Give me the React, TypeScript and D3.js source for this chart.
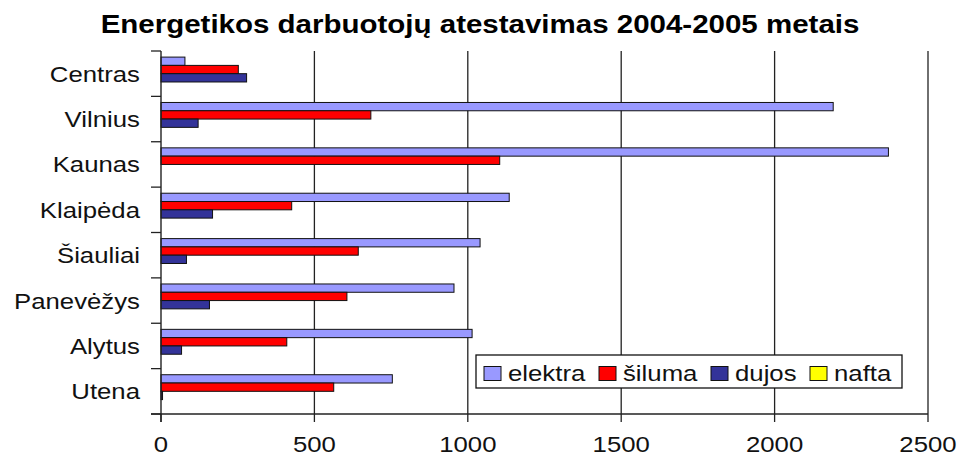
import React, { useEffect, useRef } from 'react';
import * as d3 from 'd3';

// Chart data
const categories = ['Centras', 'Vilnius', 'Kaunas', 'Klaipėda', 'Šiauliai', 'Panevėžys', 'Alytus', 'Utena'];
const seriesNames = ['elektra', 'šiluma', 'dujos', 'nafta'];
const elektra = [78, 2191, 2371, 1135, 1040, 955, 1014, 754];
const siluma = [252, 684, 1104, 426, 643, 606, 410, 563];
const dujos = [279, 121, 0, 168, 83, 158, 67, 5];
const nafta = [0, 0, 0, 0, 0, 0, 0, 0];
const xTicks = [0, 500, 1000, 1500, 2000, 2500];
const colors = ['#9999FF', '#FF0000', '#333399', '#FFFF00'];

const FONT = '"Liberation Sans", Arial, Helvetica, sans-serif';
const STRETCH = 1.12;

const App = () => {
  const ref = useRef<HTMLDivElement>(null);

  useEffect(() => {
    document.body.style.margin = '0';
    const width = 959;
    const height = 457;
    const margin = { top: 51, left: 161, right: 31, bottom: 43 };
    const values = [elektra, siluma, dujos, nafta];

    const svg = d3
      .select(ref.current)
      .append('svg')
      .attr('width', width)
      .attr('height', height)
      .style('display', 'block')
      .style('background', '#fff')
      .attr('font-family', FONT);

    const x = d3.scaleLinear().domain([0, 2500]).range([margin.left, width - margin.right]);
    const y0 = d3.scaleBand().domain(categories).range([margin.top, height - margin.bottom]);
    const y1 = d3
      .scaleBand()
      .domain(seriesNames)
      .range([0, y0.bandwidth()])
      .paddingOuter(0.735);

    const top = margin.top;
    const bottom = height - margin.bottom;
    const lineColor = '#222';

    // Title
    svg
      .append('text')
      .attr('transform', `translate(480, 33) scale(1.18,1)`)
      .attr('text-anchor', 'middle')
      .attr('font-weight', 'bold')
      .attr('font-size', 25)
      .text('Energetikos darbuotojų atestavimas 2004-2005 metais');

    // Gridlines
    svg
      .append('g')
      .selectAll('line')
      .data(xTicks.slice(1))
      .enter()
      .append('line')
      .attr('x1', (d) => x(d))
      .attr('x2', (d) => x(d))
      .attr('y1', top)
      .attr('y2', bottom)
      .attr('stroke', lineColor)
      .attr('stroke-width', 1.3);

    // Bars
    const groups = svg
      .append('g')
      .selectAll('g')
      .data(categories)
      .enter()
      .append('g')
      .attr('transform', (d) => `translate(0, ${y0(d)})`);

    groups
      .selectAll('rect')
      .data((d, i) => seriesNames.map((s, j) => ({ s, v: values[j][i], c: colors[j] })))
      .enter()
      .filter((d) => d.v > 0)
      .append('rect')
      .attr('x', x(0))
      .attr('y', (d) => y1(d.s) as number)
      .attr('width', (d) => x(d.v) - x(0))
      .attr('height', y1.bandwidth())
      .attr('fill', (d) => d.c)
      .attr('stroke', '#111')
      .attr('stroke-width', 1);

    // Y axis
    svg
      .append('line')
      .attr('x1', x(0))
      .attr('x2', x(0))
      .attr('y1', top)
      .attr('y2', bottom + 8)
      .attr('stroke', lineColor)
      .attr('stroke-width', 1.4);

    const bounds = categories.map((c) => y0(c) as number).concat([bottom]);
    svg
      .append('g')
      .selectAll('line')
      .data(bounds)
      .enter()
      .append('line')
      .attr('x1', x(0) - 10)
      .attr('x2', x(0))
      .attr('y1', (d) => d)
      .attr('y2', (d) => d)
      .attr('stroke', lineColor)
      .attr('stroke-width', 1.3);

    svg
      .append('g')
      .selectAll('text')
      .data(categories)
      .enter()
      .append('text')
      .attr('transform', (d) => `translate(140, ${(y0(d) as number) + y0.bandwidth() / 2 + 8}) scale(${STRETCH},1)`)
      .attr('text-anchor', 'end')
      .attr('font-size', 23)
      .attr('fill', '#111')
      .text((d) => d);

    // X axis
    svg
      .append('line')
      .attr('x1', x(0) - 10)
      .attr('x2', x(2500))
      .attr('y1', bottom)
      .attr('y2', bottom)
      .attr('stroke', lineColor)
      .attr('stroke-width', 1.4);

    const xt = svg.append('g').selectAll('g').data(xTicks).enter().append('g');
    xt.append('line')
      .attr('x1', (d) => x(d))
      .attr('x2', (d) => x(d))
      .attr('y1', bottom)
      .attr('y2', bottom + 8)
      .attr('stroke', lineColor)
      .attr('stroke-width', 1.3);
    xt.append('text')
      .attr('transform', (d) => `translate(${x(d)}, ${bottom + 38}) scale(${STRETCH},1)`)
      .attr('text-anchor', 'middle')
      .attr('font-size', 23)
      .attr('fill', '#111')
      .text((d) => d);

    // Legend
    const legend = svg.append('g').attr('transform', 'translate(476, 355)');
    legend
      .append('rect')
      .attr('width', 426)
      .attr('height', 33)
      .attr('fill', '#fff')
      .attr('stroke', '#111')
      .attr('stroke-width', 1.3);
    const legendX = [8, 123, 235, 334];
    const items = legend
      .selectAll('g')
      .data(seriesNames)
      .enter()
      .append('g')
      .attr('transform', (d, i) => `translate(${legendX[i]}, 0)`);
    items
      .append('rect')
      .attr('x', 0)
      .attr('y', 11.5)
      .attr('width', 17)
      .attr('height', 14)
      .attr('fill', (d, i) => colors[i])
      .attr('stroke', '#111')
      .attr('stroke-width', 1);
    items
      .append('text')
      .attr('transform', `translate(24, 26) scale(${STRETCH},1)`)
      .attr('font-size', 23)
      .attr('fill', '#111')
      .text((d) => d);

    return () => {
      svg.remove();
    };
  }, []);

  return <div ref={ref}></div>;
};

export default App;
